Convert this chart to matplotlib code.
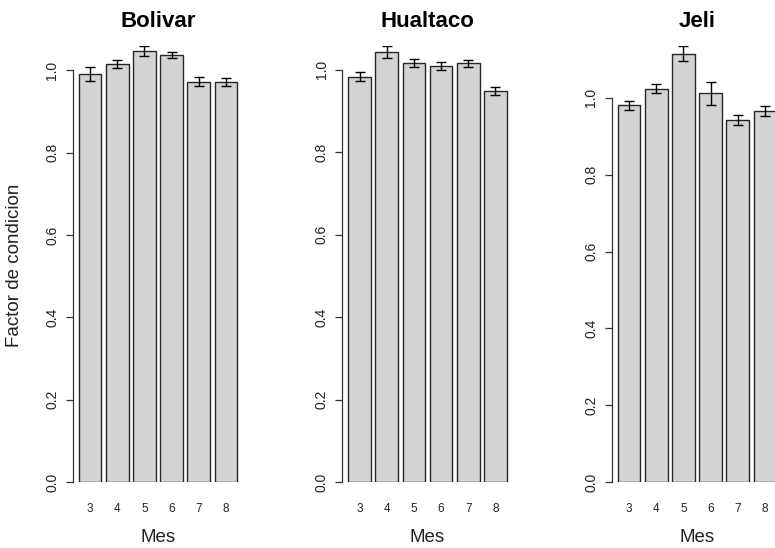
import matplotlib
matplotlib.use("Agg")
import matplotlib.pyplot as plt
import numpy as np

plt.rcParams['font.family'] = ['Liberation Sans', 'DejaVu Sans']

# datos (media y error estandar del factor de condicion)
meses = ["3", "4", "5", "6", "7", "8"]
sitios = ["Bolivar", "Hualtaco", "Jeli"]
media_bolivar = [0.990, 1.015, 1.047, 1.038, 0.972, 0.972]
se_bolivar = [0.017, 0.010, 0.012, 0.007, 0.011, 0.009]
media_hualtaco = [0.982, 1.043, 1.015, 1.009, 1.015, 0.947]
se_hualtaco = [0.011, 0.014, 0.010, 0.010, 0.009, 0.010]
media_jeli = [0.981, 1.024, 1.115, 1.012, 0.943, 0.966]
se_jeli = [0.012, 0.011, 0.020, 0.030, 0.013, 0.014]

medias = [media_bolivar, media_hualtaco, media_jeli]
errores = [se_bolivar, se_hualtaco, se_jeli]

W, H = 775, 548
fig = plt.figure(figsize=(W / 100, H / 100), dpi=100)

# posiciones en pixeles de cada panel (como el layout de R, el ultimo sale cortado)
izq = [72.5, 342, 611.5]
ancho = 171
arriba, abajo = 46, 482

# barplot de R: width=1, space=0.2
x = 0.7 + 1.2 * np.arange(len(meses))

for k in range(3):
    ax = fig.add_axes([izq[k] / W, 1 - abajo / H, ancho / W, (abajo - arriba) / H])
    m = np.array(medias[k])
    e = np.array(errores[k])
    ax.bar(x, m, width=1, color='#d3d3d3', edgecolor='#262626', linewidth=1.0)
    ax.errorbar(x, m, yerr=e, fmt='none', ecolor='black', elinewidth=1.0,
                capsize=3.3, capthick=1.0)
    ax.set_xlim(-0.08, 7.48)
    ax.set_ylim(0, (m + e).max())
    for s in ['top', 'right', 'bottom']:
        ax.spines[s].set_visible(False)
    ax.spines['left'].set_bounds(0, 1.0)
    ax.spines['left'].set_linewidth(0.9)
    ax.spines['left'].set_color('#333333')
    ax.set_yticks(np.arange(0, 1.01, 0.2))
    ax.set_yticklabels(["0.0", "0.2", "0.4", "0.6", "0.8", "1.0"])
    ax.tick_params(axis='y', length=5, width=0.9, color='#333333', pad=4.5,
                   labelsize=10, labelrotation=90, labelcolor='#222222')
    for lab in ax.get_yticklabels():
        lab.set_va('center')
    ax.set_xticks(x)
    ax.set_xticklabels(meses)
    ax.tick_params(axis='x', length=0, pad=15, labelsize=8.5, labelcolor='#222222')
    ax.set_title(sitios[k], fontsize=16, fontweight='bold', pad=13.7)
    ax.annotate("Mes", xy=(0.5, 0), xycoords='axes fraction', xytext=(0, -55),
                textcoords='offset pixels', ha='center', va='center',
                fontsize=13.5, color='#222222')

fig.text(15 / W, 1 - 265 / H, "Factor de condicion", rotation=90, ha='center',
         va='center', fontsize=13.5, color='#222222')

fig.savefig("out.png", dpi=100)
